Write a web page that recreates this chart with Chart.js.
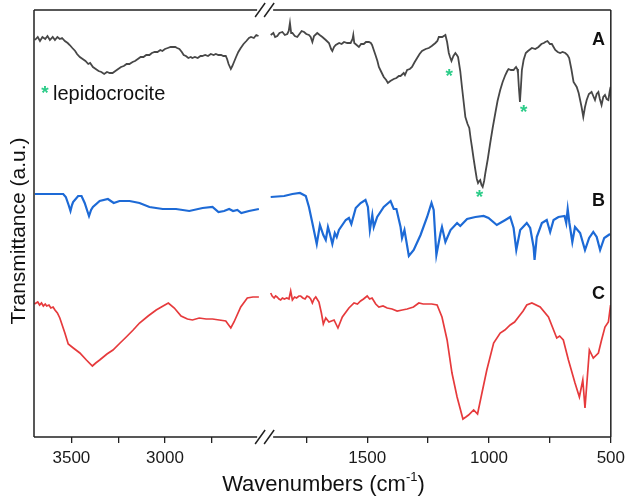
<!DOCTYPE html>
<html>
<head>
<meta charset="utf-8">
<script src="https://cdn.jsdelivr.net/npm/chart.js@4"></script>
<style>
  html, body { margin: 0; padding: 0; background: #fff; }
  #wrap { width: 630px; height: 496px; }
</style>
</head>
<body>
<div id="wrap"><canvas id="ftir" width="630" height="496"></canvas></div>
<script>
// wavenumber ticks for the two halves of the broken axis
const highTicks = [3500, 3250, 3000, 2750];
const lowTicks = [1750, 1500, 1250, 1000, 750, 500];
const labelledTicks = [3500, 3000, 1500, 1000, 500];

// spectrum A (lepidocrocite sample) - transmittance in arbitrary units
const aWnHigh = [3695, 3680, 3668, 3655, 3640, 3628, 3615, 3600, 3588, 3575, 3562, 3550, 3535, 3520, 3509, 3495, 3480, 3470, 3455, 3440, 3425, 3410, 3400, 3385, 3370, 3355, 3340, 3325, 3310, 3295, 3280, 3265, 3250, 3235, 3220, 3205, 3190, 3173, 3160, 3145, 3130, 3115, 3100, 3083, 3070, 3055, 3040, 3025, 3014, 3000, 2985, 2970, 2961, 2945, 2935, 2923, 2910, 2900, 2888, 2875, 2862, 2854, 2840, 2825, 2810, 2801, 2785, 2770, 2755, 2740, 2728, 2715, 2700, 2688, 2675, 2668, 2660, 2648, 2640, 2631, 2620, 2608, 2595, 2580, 2565, 2551, 2540, 2525, 2512, 2500];
const aTrHigh = [397, 400, 396, 400, 398, 401, 397, 400, 397, 400, 398, 399, 396, 394, 392, 389, 386, 383, 380, 378, 376, 373, 374, 370, 368, 366, 365, 363, 365, 364, 364, 366, 368, 370, 371, 373, 373, 375, 376, 378, 380, 380, 382, 382, 384, 385, 385, 387, 386, 388, 389, 390, 390, 390, 389, 388, 385, 382, 381, 379, 380, 379, 380, 379, 381, 381, 382, 381, 383, 382, 383, 382, 382, 381, 381, 378, 373, 368, 371, 375, 380, 385, 389, 393, 396, 399, 400, 399, 402, 401];
const aWnLow = [1896, 1885, 1878, 1869, 1860, 1848, 1838, 1828, 1822, 1817, 1812, 1807, 1797, 1787, 1778, 1769, 1759, 1750, 1739, 1732, 1725, 1718, 1705, 1695, 1684, 1670, 1657, 1648, 1643, 1636, 1629, 1615, 1605, 1595, 1582, 1568, 1560, 1557, 1553, 1548, 1534, 1525, 1514, 1505, 1493, 1485, 1480, 1473, 1466, 1458, 1452, 1442, 1432, 1422, 1415, 1405, 1391, 1380, 1370, 1363, 1350, 1345, 1336, 1325, 1316, 1305, 1295, 1285, 1275, 1260, 1247, 1235, 1220, 1212, 1206, 1192, 1179, 1172, 1165, 1160, 1154, 1146, 1138, 1132, 1127, 1118, 1111, 1104, 1097, 1088, 1081, 1075, 1070, 1063, 1056, 1050, 1045, 1040, 1036, 1031, 1026, 1020, 1015, 1005, 995, 985, 974, 965, 954, 944, 933, 925, 920, 910, 899, 893, 889, 884, 881, 877, 873, 869, 865, 858, 849, 840, 824, 810, 797, 785, 775, 769, 760, 750, 742, 735, 728, 718, 708, 698, 687, 678, 671, 662, 653, 645, 640, 632, 626, 620, 613, 606, 599, 590, 579, 572, 565, 558, 551, 545, 538, 531, 524, 517, 510, 505, 501];
const aTrLow = [402, 404, 400, 401, 404, 405, 402, 403, 406, 414, 404, 404, 401, 400, 403, 406, 405, 403, 402, 400, 395, 401, 404, 402, 400, 397, 394, 388, 386, 390, 392, 394, 393, 395, 394, 394, 398, 402, 394, 393, 390, 393, 393, 395, 395, 394, 392, 387, 382, 376, 370, 365, 360, 357, 354, 356, 358, 359, 361, 361, 364, 362, 367, 368, 370, 375, 379, 383, 386, 388, 389, 391, 394, 396, 400, 400, 402, 395, 384, 380, 376, 381, 384, 382, 380, 366, 350, 335, 320, 313, 309, 298, 290, 278, 267, 258, 254, 256, 257, 252, 250, 256, 264, 278, 294, 309, 324, 336, 347, 355, 362, 366, 368, 367, 367, 369, 370, 368, 364, 348, 335, 350, 367, 377, 384, 386, 389, 388, 390, 393, 394, 395, 396, 393, 393, 390, 387, 385, 384, 385, 384, 382, 379, 368, 355, 352, 350, 344, 337, 330, 320, 330, 337, 343, 345, 341, 337, 343, 345, 338, 332, 340, 342, 338, 337, 345, 350];

// spectrum B
const bWnHigh = [3695, 3544, 3530, 3515, 3505, 3497, 3491, 3464, 3446, 3429, 3415, 3406, 3395, 3385, 3349, 3305, 3274, 3243, 3189, 3136, 3083, 3012, 2941, 2870, 2799, 2746, 2714, 2684, 2657, 2636, 2613, 2592, 2551, 2498];
const bTrHigh = [243, 243, 240, 232, 226, 232, 235, 241, 241, 234, 226, 221, 227, 230, 236, 238, 234, 236, 236, 234, 230, 228, 228, 226, 229, 230, 225, 226, 228, 226, 227, 224, 226, 228];
const bWnLow = [1896, 1841, 1807, 1776, 1752, 1739, 1725, 1707, 1694, 1680, 1670, 1661, 1654, 1643, 1633, 1625, 1616, 1588, 1575, 1565, 1547, 1527, 1507, 1497, 1489, 1479, 1473, 1459, 1432, 1404, 1391, 1380, 1363, 1357, 1347, 1329, 1309, 1281, 1254, 1236, 1227, 1216, 1199, 1193, 1179, 1158, 1131, 1118, 1090, 1056, 1022, 1002, 968, 933, 913, 899, 888, 872, 845, 831, 817, 813, 804, 783, 763, 749, 735, 715, 690, 683, 677, 670, 658, 647, 626, 606, 589, 572, 558, 544, 527, 503];
const bTrLow = [240, 241, 243, 244, 241, 230, 214, 193, 212, 202, 197, 210, 204, 193, 204, 200, 207, 217, 219, 213, 229, 234, 237, 230, 207, 222, 210, 220, 230, 236, 228, 228, 210, 199, 207, 181, 187, 202, 220, 234, 227, 182, 204, 210, 195, 207, 214, 211, 218, 220, 221, 219, 212, 217, 220, 209, 187, 207, 214, 209, 190, 177, 200, 214, 217, 205, 217, 220, 221, 214, 228, 214, 195, 210, 204, 187, 199, 205, 200, 187, 199, 203];

// spectrum C
const cWnHigh = [3698, 3680, 3670, 3660, 3650, 3640, 3632, 3620, 3610, 3598, 3588, 3575, 3562, 3535, 3517, 3490, 3455, 3420, 3388, 3370, 3349, 3310, 3278, 3240, 3207, 3170, 3136, 3090, 3047, 3010, 2982, 2950, 2914, 2880, 2853, 2817, 2780, 2746, 2710, 2675, 2648, 2631, 2595, 2560, 2530, 2498];
const cTrHigh = [133, 135, 132, 134, 131, 133, 131, 132, 129, 130, 127, 124, 119, 104, 93, 89, 84, 77, 71, 74, 77, 83, 87, 94, 100, 107, 114, 121, 127, 131, 134, 129, 121, 118, 117, 119, 118, 118, 117, 116, 109, 115, 130, 139, 140, 140];
const cWnLow = [1896, 1890, 1882, 1876, 1870, 1862, 1855, 1848, 1840, 1830, 1821, 1814, 1807, 1798, 1790, 1780, 1773, 1764, 1755, 1747, 1739, 1732, 1725, 1718, 1711, 1698, 1688, 1680, 1670, 1657, 1636, 1620, 1602, 1575, 1554, 1540, 1527, 1515, 1510, 1500, 1490, 1480, 1465, 1452, 1435, 1418, 1398, 1377, 1356, 1336, 1310, 1288, 1270, 1254, 1235, 1213, 1193, 1172, 1152, 1131, 1107, 1095, 1084, 1063, 1047, 1029, 1009, 981, 954, 935, 913, 895, 879, 860, 845, 824, 790, 756, 722, 710, 695, 674, 647, 629, 615, 606, 588, 572, 551, 538, 524, 510, 501];
const cTrLow = [144, 141, 139, 141, 140, 138, 137, 139, 138, 139, 138, 146, 137, 140, 139, 141, 141, 139, 138, 141, 140, 138, 134, 138, 140, 135, 124, 113, 119, 115, 117, 109, 120, 129, 134, 133, 136, 138, 139, 141, 138, 139, 133, 130, 131, 129, 128, 126, 127, 128, 130, 134, 133, 133, 133, 132, 120, 97, 64, 40, 18, 20, 22, 27, 23, 44, 67, 94, 104, 107, 112, 115, 120, 126, 132, 134, 130, 120, 99, 101, 97, 77, 54, 40, 57, 29, 87, 79, 84, 97, 110, 115, 132];

// green asterisks marking lepidocrocite bands on spectrum A
const markWn = [1163, 1039, 858];
const markTr = [365, 244, 329];

const fontFamily = '"Liberation Sans", Arial, Helvetica, sans-serif';

function toPoints(wn, tr) {
  return wn.map((w, i) => ({ x: w, y: tr[i] }));
}

function spectrum(wn, tr, color, width, axis) {
  return {
    data: toPoints(wn, tr),
    xAxisID: axis,
    yAxisID: 'y',
    borderColor: color,
    borderWidth: width,
    pointRadius: 0,
    tension: 0,
    fill: false
  };
}

function wnAxis(min, max, weight, tickList) {
  return {
    type: 'linear',
    position: 'bottom',
    stack: 'wn',
    stackWeight: weight,
    min: min,
    max: max,
    reverse: true,
    afterBuildTicks: s => { s.ticks = tickList.map(v => ({ value: v })); },
    afterFit: s => { s.height = 59; },
    grid: { drawOnChartArea: false, drawTicks: true, tickLength: 6, color: '#222', lineWidth: 1.3 },
    border: { display: false },
    ticks: {
      autoSkip: false,
      maxRotation: 0,
      padding: 5,
      color: '#1a1a1a',
      font: { size: 17, family: fontFamily },
      callback: v => labelledTicks.includes(v) ? String(v) : ''
    }
  };
}

const decorPlugin = {
  id: 'decor',
  afterDraw(chart) {
    const { ctx, chartArea: a, scales } = chart;
    const brk = scales.xHigh.right;
    ctx.save();

    // frame with axis break
    ctx.strokeStyle = '#222';
    ctx.lineWidth = 1.5;
    ctx.beginPath();
    ctx.moveTo(a.left, a.top); ctx.lineTo(a.left, a.bottom);
    ctx.moveTo(a.right, a.top); ctx.lineTo(a.right, a.bottom);
    [a.top, a.bottom].forEach(y => {
      ctx.moveTo(a.left, y); ctx.lineTo(brk - 7, y);
      ctx.moveTo(brk + 9, y); ctx.lineTo(a.right, y);
      ctx.moveTo(brk - 9, y + 7); ctx.lineTo(brk + 1, y - 7);
      ctx.moveTo(brk, y + 7); ctx.lineTo(brk + 10, y - 7);
    });
    ctx.stroke();

    // green asterisks
    ctx.fillStyle = '#2bcc88';
    ctx.font = 'bold 19px ' + fontFamily;
    ctx.textAlign = 'center';
    ctx.textBaseline = 'alphabetic';
    const m = ctx.measureText('*');
    const starShift = (m.actualBoundingBoxAscent - m.actualBoundingBoxDescent) / 2;
    markWn.forEach((w, i) => {
      const px = scales.xLow.getPixelForValue(w);
      const py = scales.y.getPixelForValue(markTr[i]);
      ctx.fillText('*', px, py + starShift);
    });
    ctx.fillText('*', 45, 89 + starShift);

    // legend text
    ctx.fillStyle = '#111';
    ctx.textAlign = 'left';
    ctx.font = '20px ' + fontFamily;
    ctx.fillText('lepidocrocite', 53, 100);

    // series letters
    ctx.font = 'bold 18px ' + fontFamily;
    ctx.fillText('A', 592, 45);
    ctx.fillText('B', 592, 206);
    ctx.fillText('C', 592, 299);

    // x axis title with superscript
    const main = 'Wavenumbers (cm';
    const sup = '-1';
    const tail = ')';
    ctx.font = '22px ' + fontFamily;
    const wMain = ctx.measureText(main).width;
    const wTail = ctx.measureText(tail).width;
    ctx.font = '13px ' + fontFamily;
    const wSup = ctx.measureText(sup).width;
    const total = wMain + wSup + wTail;
    let x = 323.5 - total / 2;
    const base = 491;
    ctx.font = '22px ' + fontFamily;
    ctx.fillText(main, x, base);
    x += wMain;
    ctx.font = '13px ' + fontFamily;
    ctx.fillText(sup, x, base - 10);
    x += wSup;
    ctx.font = '22px ' + fontFamily;
    ctx.fillText(tail, x, base);

    // y axis title
    ctx.font = '21px ' + fontFamily;
    ctx.translate(25, 231);
    ctx.rotate(-Math.PI / 2);
    ctx.textAlign = 'center';
    ctx.fillText('Transmittance (a.u.)', 0, 0);

    ctx.restore();
  }
};

new Chart(document.getElementById('ftir'), {
  type: 'line',
  data: {
    datasets: [
      spectrum(aWnHigh, aTrHigh, '#474747', 1.8, 'xHigh'),
      spectrum(aWnLow, aTrLow, '#474747', 1.8, 'xLow'),
      spectrum(bWnHigh, bTrHigh, '#1d6ad6', 2.2, 'xHigh'),
      spectrum(bWnLow, bTrLow, '#1d6ad6', 2.2, 'xLow'),
      spectrum(cWnHigh, cTrHigh, '#e63a3c', 1.7, 'xHigh'),
      spectrum(cWnLow, cTrLow, '#e63a3c', 1.7, 'xLow')
    ]
  },
  options: {
    responsive: false,
    animation: false,
    devicePixelRatio: 1,
    layout: { padding: { left: 34, top: 10, right: 17, bottom: 0 } },
    plugins: { legend: { display: false }, tooltip: { enabled: false } },
    scales: {
      xHigh: wnAxis(2470, 3700, 231, highTicks),
      xLow: wnAxis(500, 1923, 348, lowTicks),
      y: { display: false, min: 0, max: 427 }
    }
  },
  plugins: [decorPlugin]
});
</script>
</body>
</html>
